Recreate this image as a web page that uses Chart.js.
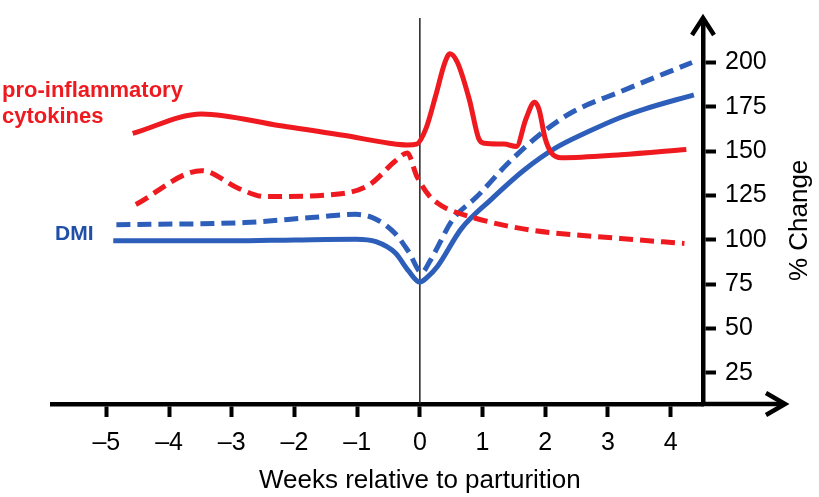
<!DOCTYPE html>
<html>
<head>
<meta charset="utf-8">
<script src="https://cdn.jsdelivr.net/npm/chart.js@4.4.0/dist/chart.umd.min.js"></script>
<style>
  html, body { margin: 0; padding: 0; background: #fff; }
</style>
</head>
<body>
<canvas id="chart" width="819" height="497"></canvas>
<script>
// Semanas y valores (% de cambio)

// Citoquinas pro-inflamatorias, línea continua
const citoContX = [-4.58, -3.48, -2.25, -1.22, -0.49, -0.2, -0.05, 0.1, 0.25, 0.4, 0.48, 0.6, 0.79, 0.94, 1.03, 1.34, 1.54, 1.69, 1.83, 1.9, 2.0, 2.1, 2.26, 3.2, 4.25];
const citoContY = [160, 171, 164.5, 159, 154.5, 153.5, 154, 163, 181, 200, 205, 200, 179, 157, 154.5, 154, 152.7, 168, 177.6, 173.6, 157, 149, 146.3, 148, 151];

// Citoquinas pro-inflamatorias, línea discontinua
const citoDiscX = [-4.53, -3.48, -2.89, -2.47, -1.43, -0.81, -0.39, -0.2, -0.05, 0.16, 0.28, 0.41, 0.85, 1.65, 3.2, 4.22];
const citoDiscY = [120, 139, 129, 124.4, 125.4, 131, 144.5, 149, 136, 124.4, 120.8, 118, 112.6, 106.2, 100.8, 98];

// DMI, línea continua
const dmiContX = [-4.89, -3, -2, -1.02, -0.7, -0.39, -0.18, 0, 0.12, 0.28, 0.66, 1.13, 1.65, 2.16, 2.68, 3.2, 3.57, 4.37];
const dmiContY = [99.5, 99.5, 100, 100.4, 99, 92.6, 82.5, 76.2, 79, 85, 106.2, 122.6, 139, 151.7, 160.9, 169, 173.6, 181.8];

// DMI, línea discontinua
const dmiDiscX = [-4.84, -2.79, -1.73, -1.02, -0.7, -0.39, -0.18, 0.03, 0.16, 0.53, 0.91, 1.39, 1.9, 2.42, 3.2, 4.34];
const dmiDiscY = [108.6, 109.8, 112.6, 114.4, 111.7, 103.5, 93.4, 81.6, 88, 111.7, 124.4, 142.6, 159, 171.8, 183.6, 200];

// Marcas de los ejes
const xTicks = [-5, -4, -3, -2, -1, 0, 1, 2, 3, 4];
const yTicks = [25, 50, 75, 100, 125, 150, 175, 200];

const ROJO = '#ee1a1f';
const AZUL = '#2d5fba';
const FUENTE = '"Liberation Sans", Arial, sans-serif';

function puntos(xs, ys) {
    return xs.map((x, i) => ({ x: x, y: ys[i] }));
}

// Dibuja flechas de los ejes, línea del parto y textos
const ejesPlugin = {
    id: 'ejes',
    beforeDatasetsDraw(chart) {
        const { ctx, chartArea, scales } = chart;
        const x0 = scales.x.getPixelForValue(0);
        ctx.save();
        ctx.strokeStyle = '#222';
        ctx.lineWidth = 1.5;
        ctx.beginPath();
        ctx.moveTo(x0, chartArea.top - 6);
        ctx.lineTo(x0, chartArea.bottom);
        ctx.stroke();
        ctx.restore();
    },
    afterDraw(chart) {
        const { ctx, chartArea, scales } = chart;
        const r = chartArea.right, b = chartArea.bottom, t = chartArea.top;
        ctx.save();
        ctx.strokeStyle = '#000';
        ctx.lineWidth = 4.5;
        ctx.lineJoin = 'miter';
        // eje y hacia arriba
        ctx.beginPath();
        ctx.moveTo(r, t + 2);
        ctx.lineTo(r, t - 6);
        ctx.stroke();
        ctx.beginPath();
        ctx.moveTo(r - 11, t + 11);
        ctx.lineTo(r, t - 6);
        ctx.lineTo(r + 11, t + 11);
        ctx.stroke();
        // eje x hacia la derecha
        ctx.beginPath();
        ctx.moveTo(r - 2, b);
        ctx.lineTo(r + 82, b);
        ctx.stroke();
        ctx.beginPath();
        ctx.moveTo(r + 63, b - 11);
        ctx.lineTo(r + 82, b);
        ctx.lineTo(r + 63, b + 11);
        ctx.stroke();

        // títulos de los ejes
        ctx.fillStyle = '#000';
        ctx.font = '26px ' + FUENTE;
        ctx.textAlign = 'center';
        ctx.textBaseline = 'alphabetic';
        ctx.fillText('Weeks relative to parturition', scales.x.getPixelForValue(0), 488);
        ctx.save();
        ctx.translate(807, scales.y.getPixelForValue(111));
        ctx.rotate(-Math.PI / 2);
        ctx.fillText('% Change', 0, 0);
        ctx.restore();

        // etiquetas de las series
        ctx.textAlign = 'left';
        ctx.fillStyle = ROJO;
        ctx.font = 'bold 22px ' + FUENTE;
        ctx.fillText('pro-inflammatory', 2, 97);
        ctx.fillText('cytokines', 2, 123);
        ctx.fillStyle = '#1f4fa6';
        ctx.font = 'bold 21px ' + FUENTE;
        ctx.fillText('DMI', 55, 240);
        ctx.restore();
    }
};

function serie(etiqueta, datos, color, discontinua) {
    return {
        label: etiqueta,
        data: datos,
        borderColor: color,
        borderWidth: 5,
        borderDash: discontinua ? [14, 7] : [],
        pointRadius: 0,
        fill: false,
        cubicInterpolationMode: 'monotone'
    };
}

function dibujarGrafico() {
    const ctx = document.getElementById('chart').getContext('2d');
    new Chart(ctx, {
        type: 'line',
        data: {
            datasets: [
                serie('Citoquinas (continua)', puntos(citoContX, citoContY), ROJO, false),
                serie('Citoquinas (discontinua)', puntos(citoDiscX, citoDiscY), ROJO, true),
                serie('DMI (discontinua)', puntos(dmiDiscX, dmiDiscY), AZUL, true),
                serie('DMI (continua)', puntos(dmiContX, dmiContY), AZUL, false)
            ]
        },
        options: {
            responsive: false,
            animation: false,
            layout: { padding: { left: 52, top: 12, right: 0, bottom: 0 } },
            plugins: { legend: { display: false }, tooltip: { enabled: false } },
            scales: {
                x: {
                    type: 'linear',
                    min: -5.867,
                    max: 4.516,
                    afterBuildTicks: s => { s.ticks = xTicks.map(v => ({ value: v })); },
                    afterFit: s => { s.height = 93; },
                    grid: { drawOnChartArea: false, drawTicks: true, tickLength: 13, tickWidth: 4, tickColor: '#000' },
                    border: { display: true, color: '#000', width: 4.5 },
                    ticks: {
                        color: '#000',
                        padding: 11,
                        maxRotation: 0,
                        font: { family: FUENTE, size: 25 },
                        callback: v => v < 0 ? '\u2013' + Math.abs(v) : String(v)
                    }
                },
                y: {
                    position: 'right',
                    min: 7.5,
                    max: 221.7,
                    afterBuildTicks: s => { s.ticks = yTicks.map(v => ({ value: v })); },
                    afterFit: s => { s.width = 116; },
                    grid: { drawOnChartArea: false, drawTicks: true, tickLength: 13, tickWidth: 4, tickColor: '#000' },
                    border: { display: true, color: '#000', width: 4.5 },
                    ticks: {
                        color: '#000',
                        padding: 9,
                        font: { family: FUENTE, size: 25 }
                    }
                }
            }
        },
        plugins: [ejesPlugin]
    });
}

window.addEventListener('DOMContentLoaded', dibujarGrafico);
</script>
</body>
</html>
